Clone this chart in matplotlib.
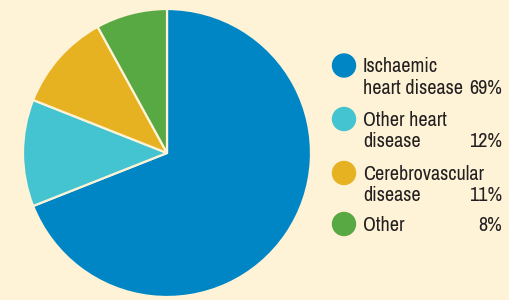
import matplotlib.pyplot as plt
from matplotlib import font_manager
from matplotlib.patches import Ellipse

labels = ['Ischaemic\nheart disease', 'Other heart\ndisease', 'Cerebrovascular\ndisease', 'Other']
values = [69, 12, 11, 8]
colors = ['#0086C5', '#44C4D0', '#E6B222', '#58A843']
bg = '#FEF3D6'

names = set(f.name for f in font_manager.fontManager.ttflist)
fam = 'DejaVu Sans'
for cand in ['Liberation Sans Narrow', 'Archivo Narrow', 'Roboto Condensed',
             'IBM Plex Sans Condensed', 'Sofia Sans Condensed']:
    if cand in names:
        fam = cand
        break

W, H = 510, 300
fig = plt.figure(figsize=(W / 100, H / 100), dpi=100, facecolor=bg)

# pie centred at (167,153) px, radius 144 px
cx, cy, r = 167, 153, 144
ax = fig.add_axes([(cx - r) / W, (H - cy - r) / H, 2 * r / W, 2 * r / H])
ax.pie(values, colors=colors, startangle=90, counterclock=False,
       wedgeprops=dict(edgecolor=bg, linewidth=1.6))
ax.set_xlim(-1, 1)
ax.set_ylim(-1, 1)
ax.set_aspect('equal')
ax.axis('off')

# legend drawn by hand, one text per line (baselines in px from top)
first_base = [72.5, 126, 180, 231]
line_gap = 21.3
for lab, val, col, yb in zip(labels, values, colors, first_base):
    fig.add_artist(Ellipse((344 / W, 1 - (yb - 7) / H), 23 / W, 23 / H,
                           transform=fig.transFigure, color=col))
    lines = lab.split('\n')
    for i, ln in enumerate(lines):
        fig.text(363 / W, 1 - (yb + i * line_gap) / H, ln, ha='left',
                 va='baseline', fontsize=14.5, family=fam, color='#231F20')
    last = yb + (len(lines) - 1) * line_gap
    fig.text(502 / W, 1 - last / H, f'{val}%', ha='right', va='baseline',
             fontsize=14.5, family=fam, color='#231F20')

fig.savefig('out.png', dpi=100, facecolor=bg)
